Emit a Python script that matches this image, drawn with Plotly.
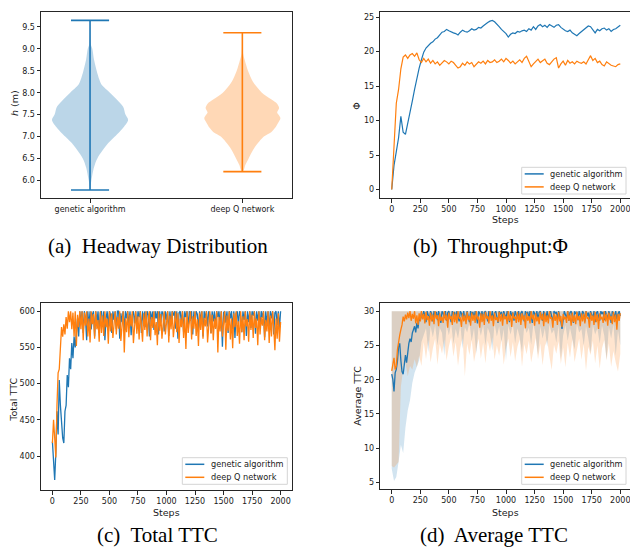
import plotly.graph_objects as go

W, H = 630, 551

# ------------------------------------------------------------------ data
CATEGORIES = ["genetic algorithm", "deep Q network"]
SERIES = ["genetic algorithm", "deep Q network"]

# (a) headway distribution: extrema and violin outline (density profile)
GA_HEADWAY_MIN, GA_HEADWAY_MAX = 5.78, 9.65
DQN_HEADWAY_MIN, DQN_HEADWAY_MAX = 6.20, 9.37
GA_PROFILE_H = [5.78, 6.0, 6.3, 6.5, 6.85, 7.0, 7.22, 7.38, 7.5, 7.68, 7.85, 8.0, 8.18, 8.3, 8.5, 8.75, 9.0, 9.12, 9.65]
GA_PROFILE_D = [0, 4, 12, 22, 55, 75, 102, 115, 107, 100, 80, 60, 35, 28, 20, 12, 7, 2, 0]
DQN_PROFILE_H = [6.2, 6.25, 6.35, 6.5, 6.75, 7.0, 7.1, 7.2, 7.3, 7.42, 7.5, 7.55, 7.65, 7.75, 7.85, 8.0, 8.25, 8.5, 8.75, 8.9, 9.37]
DQN_PROFILE_D = [0, 5, 9, 19, 37, 65, 87, 99, 107, 115, 109, 105, 111, 105, 87, 59, 32, 17, 7, 2, 0]

# (b) throughput, every 20 steps
STEPS_B = list(range(0, 2001, 20))
GA_THROUGHPUT = [
    0.0, 3.5, 5.5, 7.5, 10.6, 8.3, 8.0, 9.8, 11.5, 12.8,
    14.5, 16.2, 17.6, 18.8, 19.9, 20.5, 20.9, 21.2, 21.4, 21.8,
    22.0, 22.4, 22.8, 22.9, 23.2, 23.0, 22.8, 22.7, 22.6, 22.4,
    22.8, 23.1, 22.9, 22.8, 23.0, 23.3, 23.1, 23.2, 23.5, 23.4,
    23.7, 24.0, 24.2, 24.4, 24.5, 24.3, 24.0, 23.6, 23.2, 22.9,
    22.6, 22.1, 22.5, 22.7, 22.6, 22.9, 22.8, 23.0, 23.1, 22.9,
    23.3, 23.1, 23.6, 23.2, 23.7, 23.9, 23.6, 23.8, 23.5, 23.9,
    23.7, 23.5, 23.8, 23.9, 23.5, 23.2, 23.0, 22.9, 23.1, 22.7,
    22.5, 22.3, 22.6, 22.9, 23.2, 23.5, 23.7, 23.6, 23.1, 22.7,
    23.2, 23.0, 23.3, 23.4, 23.1, 23.3, 22.9, 23.2, 23.3, 23.5,
    23.8]
DQN_THROUGHPUT = [
    0.0, 6.5, 12.5, 14.5, 17.5, 19.2, 19.5, 19.0, 19.5, 19.7,
    19.3, 19.8, 18.8, 18.4, 19.0, 18.5, 18.9, 18.3, 18.7, 18.2,
    18.5, 18.0, 18.3, 18.7, 18.5, 18.2, 18.6, 18.4, 18.0, 17.6,
    17.8, 18.3, 18.0, 18.5, 18.2, 18.4, 17.8, 18.1, 18.5, 18.3,
    18.6, 18.2, 18.7, 18.4, 18.5, 18.8, 18.4, 18.6, 18.9, 18.5,
    19.0, 18.7, 18.3, 18.6, 18.2, 18.5, 18.8, 18.4, 19.0, 19.3,
    18.6, 17.8, 18.2, 18.6, 18.9, 18.4, 18.7, 18.9, 18.3, 18.1,
    18.5, 18.9, 19.1, 17.6, 18.2, 18.6, 18.0, 18.7, 18.3, 18.5,
    18.2, 18.6, 18.4, 18.3, 18.5, 18.2, 18.8, 19.4, 18.7, 19.0,
    18.4, 18.6, 18.1, 17.9, 18.5, 18.2, 18.0, 17.9, 17.8, 18.1,
    18.2]

# (c) total TTC, every 10 steps
STEPS_CD = list(range(0, 2001, 10))
GA_TOTAL_TTC = [
    420, 400, 367, 405, 462, 430, 505, 470, 445, 425,
    418, 462, 470, 512, 495, 535, 520, 556, 535, 565,
    550, 578, 590, 565, 600, 585, 600, 570, 600, 590,
    560, 600, 580, 600, 575, 595, 600, 565, 600, 585,
    600, 570, 598, 600, 580, 600, 560, 590, 600, 578,
    600, 595, 570, 600, 588, 600, 575, 600, 600, 562,
    597, 585, 600, 573, 600, 590, 600, 580, 600, 567,
    595, 600, 583, 600, 575, 600, 592, 600, 570, 600,
    586, 600, 578, 600, 595, 565, 600, 588, 600, 574,
    600, 590, 600, 568, 600, 584, 600, 596, 572, 600,
    588, 600, 566, 600, 582, 600, 594, 600, 576, 600,
    562, 598, 600, 585, 600, 571, 600, 592, 600, 578,
    600, 589, 600, 568, 600, 583, 600, 596, 574, 600,
    587, 600, 565, 600, 590, 600, 579, 600, 595, 570,
    600, 586, 600, 576, 600, 592, 600, 580, 600, 551,
    598, 600, 584, 600, 570, 600, 590, 600, 575, 600,
    563, 597, 600, 582, 600, 593, 571, 600, 588, 600,
    566, 600, 585, 600, 577, 600, 594, 600, 569, 600,
    587, 600, 579, 600, 591, 600, 564, 600, 583, 600,
    575, 600, 590, 600, 568, 598, 600, 581, 600, 577,
    600]
DQN_TOTAL_TTC = [
    418, 450, 425, 398, 470, 515, 520, 545, 578, 565,
    582, 568, 592, 576, 600, 585, 600, 575, 598, 565,
    600, 552, 595, 578, 600, 575, 600, 560, 598, 580,
    600, 565, 590, 557, 600, 582, 596, 562, 600, 575,
    588, 558, 600, 570, 594, 566, 600, 578, 590, 555,
    600, 572, 597, 563, 585, 600, 568, 592, 576, 600,
    559, 588, 600, 543, 590, 571, 600, 564, 595, 579,
    600, 556, 587, 600, 569, 593, 561, 600, 580, 558,
    597, 574, 600, 565, 589, 600, 560, 592, 577, 600,
    567, 585, 553, 600, 573, 596, 562, 590, 600, 568,
    583, 600, 557, 594, 575, 600, 564, 588, 600, 571,
    597, 556, 590, 578, 600, 563, 592, 548, 600, 570,
    586, 600, 561, 593, 576, 600, 566, 589, 552, 598,
    574, 600, 562, 591, 579, 600, 557, 587, 600, 569,
    595, 560, 590, 576, 600, 543, 592, 572, 600, 565,
    588, 600, 547, 594, 573, 600, 561, 590, 549, 597,
    578, 600, 566, 586, 555, 600, 571, 593, 560, 600,
    579, 589, 558, 600, 574, 595, 563, 600, 577, 590,
    553, 600, 568, 592, 580, 600, 560, 588, 572, 600,
    556, 594, 565, 600, 578, 546, 590, 562, 597, 558,
    585]

# (d) average TTC, every 10 steps (mean) and every 20 steps (lower band edge)
GA_AVG_TTC = [
    20.8, 20.0, 18.3, 21.0, 21.5, 22.7, 24.8, 25.3, 22.8, 21.2,
    20.8, 22.0, 23.6, 22.5, 24.5, 25.3, 26.0, 25.5, 26.8, 27.3,
    27.8, 26.9, 28.3, 27.5, 29.0, 28.6, 29.8, 28.9, 30.0, 29.3,
    28.4, 30.0, 29.5, 28.8, 30.0, 29.6, 28.5, 30.0, 29.2, 29.9,
    28.7, 30.0, 29.4, 28.3, 30.0, 29.7, 29.0, 30.0, 28.6, 29.8,
    30.0, 29.1, 28.4, 30.0, 29.5, 29.9, 28.8, 30.0, 29.3, 28.5,
    30.0, 29.7, 29.0, 30.0, 28.7, 29.6, 30.0, 29.2, 28.4, 30.0,
    29.5, 29.9, 28.9, 30.0, 29.4, 28.2, 30.0, 29.7, 29.1, 30.0,
    28.6, 29.8, 30.0, 29.3, 28.5, 30.0, 29.6, 29.0, 30.0, 28.8,
    29.7, 30.0, 29.2, 28.3, 30.0, 29.5, 29.9, 28.7, 30.0, 29.4,
    28.9, 30.0, 29.6, 28.4, 30.0, 29.3, 29.8, 28.6, 30.0, 29.5,
    29.0, 30.0, 28.8, 29.7, 30.0, 29.2, 28.5, 30.0, 29.6, 29.9,
    28.9, 30.0, 29.4, 28.3, 30.0, 29.7, 29.1, 30.0, 28.7, 29.8,
    30.0, 29.3, 28.6, 30.0, 29.5, 29.0, 30.0, 28.8, 29.6, 30.0,
    29.2, 28.4, 30.0, 29.7, 29.9, 28.9, 30.0, 29.3, 28.5, 27.4,
    28.8, 30.0, 29.5, 29.0, 30.0, 28.6, 29.8, 30.0, 29.2, 28.3,
    30.0, 29.6, 29.9, 28.7, 30.0, 29.4, 28.9, 30.0, 29.7, 28.5,
    30.0, 29.3, 29.8, 28.8, 30.0, 29.5, 29.0, 30.0, 28.4, 29.7,
    30.0, 29.2, 28.6, 30.0, 29.6, 29.9, 28.7, 30.0, 29.4, 28.9,
    30.0, 29.5, 28.3, 30.0, 29.7, 29.1, 30.0, 28.8, 29.6, 30.0,
    29.3]
DQN_AVG_TTC = [
    21.3, 22.5, 23.2, 21.5, 22.0, 24.4, 25.8, 26.5, 27.3, 28.0,
    29.2, 28.5, 29.5, 28.8, 29.8, 29.0, 30.0, 28.6, 29.6, 28.9,
    30.0, 28.2, 29.4, 28.0, 29.7, 28.5, 30.0, 28.8, 29.6, 28.2,
    29.9, 28.7, 29.3, 27.9, 29.8, 28.5, 29.5, 28.1, 30.0, 28.9,
    29.4, 27.8, 29.7, 28.6, 29.2, 28.3, 30.0, 28.7, 29.5, 27.6,
    29.8, 28.8, 29.3, 28.0, 29.9, 28.4, 29.6, 28.2, 30.0, 28.9,
    29.1, 27.7, 29.7, 28.5, 29.4, 28.1, 29.9, 28.7, 29.3, 27.9,
    29.8, 28.6, 29.5, 28.3, 30.0, 28.8, 29.2, 27.6, 29.7, 28.4,
    29.6, 28.0, 29.9, 28.9, 29.3, 28.2, 30.0, 28.6, 29.4, 27.8,
    29.8, 28.7, 29.1, 28.4, 29.9, 28.5, 29.6, 27.9, 29.7, 28.8,
    29.3, 28.1, 30.0, 28.6, 29.5, 27.7, 29.8, 28.9, 29.2, 28.3,
    29.9, 28.4, 29.6, 28.0, 29.7, 28.7, 29.4, 27.5, 29.8, 28.6,
    29.3, 28.2, 30.0, 28.8, 29.5, 27.9, 29.7, 28.5, 29.2, 28.1,
    29.9, 28.7, 29.6, 27.8, 29.8, 28.4, 29.4, 28.2, 30.0, 28.9,
    29.1, 27.6, 29.7, 28.6, 29.5, 28.0, 29.9, 28.5, 29.3, 27.7,
    29.6, 28.8, 29.2, 28.3, 30.0, 28.6, 29.5, 27.9, 29.8, 28.4,
    29.4, 28.1, 29.9, 28.7, 29.3, 27.8, 29.7, 28.5, 29.6, 28.2,
    30.0, 28.9, 29.1, 27.6, 29.8, 28.6, 29.4, 28.0, 29.9, 28.4,
    29.5, 27.4, 29.7, 28.8, 29.2, 28.3, 30.0, 28.5, 29.6, 27.9,
    29.8, 28.7, 29.3, 28.1, 29.9, 28.4, 29.5, 27.3, 29.6, 28.6,
    29.7]
AVG_TTC_CAP = 30.0
STEPS_BAND = list(range(0, 2001, 20))
GA_AVG_LOW = [
    7.0, 5.2, 5.8, 8.0, 10.5, 9.3, 13.0, 15.5, 17.0, 19.5,
    21.0, 22.0, 22.8, 25.5, 26.5, 27.5, 24.0, 27.8, 26.2, 28.0,
    25.0, 27.6, 26.8, 23.5, 27.9, 26.5, 28.2, 25.2, 27.4, 26.0,
    28.1, 24.5, 27.7, 26.9, 28.3, 25.6, 27.5, 23.8, 27.9, 26.4,
    28.0, 25.0, 27.6, 26.7, 24.2, 28.2, 26.3, 27.8, 25.5, 27.4,
    22.8, 27.9, 26.6, 28.1, 25.3, 27.5, 26.2, 24.0, 28.0, 26.8,
    27.6, 25.1, 28.2, 26.4, 23.6, 27.8, 26.0, 27.5, 24.8, 28.1,
    26.7, 27.3, 25.4, 27.9, 23.0, 26.5, 28.0, 25.7, 27.6, 26.3,
    24.4, 28.2, 26.9, 27.4, 25.0, 27.8, 26.1, 23.9, 28.0, 26.6,
    27.5, 25.3, 27.9, 26.4, 22.9, 27.7, 26.0, 28.1, 23.5, 27.2,
    25.0]
DQN_AVG_LOW = [
    7.4, 7.2, 7.6, 8.0, 19.0, 21.5, 22.5, 20.5, 22.0, 21.5,
    23.0, 21.8, 23.5, 22.0, 25.5, 23.0, 25.8, 22.5, 24.6, 26.0,
    22.2, 25.2, 23.8, 25.9, 22.8, 24.9, 26.2, 23.4, 25.5, 22.0,
    24.7, 26.1, 20.5, 25.3, 23.6, 25.8, 22.6, 24.4, 26.0, 23.1,
    25.4, 22.4, 25.7, 24.1, 26.2, 22.9, 25.0, 23.5, 25.9, 22.2,
    24.6, 26.0, 23.3, 25.5, 22.7, 24.8, 25.9, 21.9, 25.2, 23.7,
    25.7, 22.5, 24.5, 26.1, 23.0, 25.3, 22.1, 24.9, 25.8, 23.4,
    21.4, 25.1, 23.8, 25.6, 22.3, 24.7, 21.8, 25.4, 23.2, 25.9,
    22.6, 24.4, 26.0, 22.9, 25.2, 21.3, 24.8, 23.6, 25.7, 22.4,
    25.0, 21.6, 24.6, 25.8, 22.8, 25.3, 21.9, 24.2, 22.5, 21.2,
    23.8]

STEP_TICKS = list(range(0, 2001, 250))

# ------------------------------------------------------------------ style
C0, C1 = "#1f77b4", "#ff7f0e"
C0_BODY, C1_BODY = "rgba(31,119,180,0.3)", "rgba(255,127,14,0.3)"
C0_BAND, C1_BAND = "rgba(31,119,180,0.2)", "rgba(255,127,14,0.2)"
INK = "#262626"
SANS = "DejaVu Sans"
SERIF = "Liberation Serif"


def fx(px):
    return px / W


def fy(py):
    return 1 - py / H


fig = go.Figure()

# ---------------- (a) violins
violins = [
    (1, GA_PROFILE_H, GA_PROFILE_D, GA_HEADWAY_MIN, GA_HEADWAY_MAX, C0_BODY, C0),
    (2, DQN_PROFILE_H, DQN_PROFILE_D, DQN_HEADWAY_MIN, DQN_HEADWAY_MAX, C1_BODY, C1),
]
for pos, lev, dens, vmin, vmax, body, col in violins:
    m = max(dens)
    hw = [d / m * 0.25 for d in dens]
    xs = [pos + h for h in hw] + [pos - h for h in reversed(hw)]
    ys = list(lev) + list(reversed(lev))
    fig.add_trace(go.Scatter(x=xs, y=ys, mode="lines", fill="toself", fillcolor=body,
                             line=dict(width=0, color=body, shape="spline", smoothing=0.8),
                             xaxis="x", yaxis="y", showlegend=False, hoverinfo="skip"))
    fig.add_trace(go.Scatter(x=[pos, pos], y=[vmin, vmax], mode="lines",
                             line=dict(color=col, width=1.6), xaxis="x", yaxis="y", showlegend=False))
    for v in (vmin, vmax):
        fig.add_trace(go.Scatter(x=[pos - 0.125, pos + 0.125], y=[v, v], mode="lines",
                                 line=dict(color=col, width=1.6), xaxis="x", yaxis="y", showlegend=False))

# ---------------- (b) throughput
fig.add_trace(go.Scatter(x=STEPS_B, y=GA_THROUGHPUT, mode="lines", line=dict(color=C0, width=1.2),
                         xaxis="x2", yaxis="y2", showlegend=False, name=SERIES[0]))
fig.add_trace(go.Scatter(x=STEPS_B, y=DQN_THROUGHPUT, mode="lines", line=dict(color=C1, width=1.2),
                         xaxis="x2", yaxis="y2", showlegend=False, name=SERIES[1]))

# ---------------- (c) total TTC
fig.add_trace(go.Scatter(x=STEPS_CD, y=GA_TOTAL_TTC, mode="lines", line=dict(color=C0, width=1.3),
                         xaxis="x3", yaxis="y3", showlegend=False, name=SERIES[0]))
fig.add_trace(go.Scatter(x=STEPS_CD, y=DQN_TOTAL_TTC, mode="lines", line=dict(color=C1, width=1.3),
                         xaxis="x3", yaxis="y3", showlegend=False, name=SERIES[1]))

# ---------------- (d) average TTC with bands
for low, band in ((GA_AVG_LOW, C0_BAND), (DQN_AVG_LOW, C1_BAND)):
    xs = STEPS_BAND + list(reversed(STEPS_BAND))
    ys = [AVG_TTC_CAP] * len(STEPS_BAND) + list(reversed(low))
    fig.add_trace(go.Scatter(x=xs, y=ys, mode="lines", fill="toself", fillcolor=band,
                             line=dict(width=0, color=band), xaxis="x4", yaxis="y4",
                             showlegend=False, hoverinfo="skip"))
fig.add_trace(go.Scatter(x=STEPS_CD, y=GA_AVG_TTC, mode="lines", line=dict(color=C0, width=1.3),
                         xaxis="x4", yaxis="y4", showlegend=False, name=SERIES[0]))
fig.add_trace(go.Scatter(x=STEPS_CD, y=DQN_AVG_TTC, mode="lines", line=dict(color=C1, width=1.3),
                         xaxis="x4", yaxis="y4", showlegend=False, name=SERIES[1]))

# ------------------------------------------------------------------ axes
tickfont = dict(family=SANS, size=8, color="#1a1a1a")


def ax(domain, rng, mirror=True, **kw):
    d = dict(domain=domain, range=rng, showgrid=False, zeroline=False, showline=True,
             linecolor=INK, linewidth=1, mirror=mirror, ticks="outside", ticklen=3.5,
             tickwidth=1, tickcolor=INK, tickfont=tickfont, fixedrange=True,
             ticklabeloverflow="allow")
    d.update(kw)
    return d


XA = [fx(41), fx(292)]
XB = [fx(380.3), 1.0]
YTOP = [fy(198), fy(12)]
YC = [fy(490), fy(302.7)]
YD = [fy(489.3), fy(302.7)]

fig.update_layout(
    width=W, height=H, margin=dict(l=0, r=0, t=0, b=0),
    paper_bgcolor="white", plot_bgcolor="white", showlegend=False,
    xaxis=ax(XA, [0.678, 2.326], tickvals=[1, 2], ticktext=CATEGORIES, anchor="y"),
    yaxis=ax(YTOP, [5.597, 9.842], tickvals=[6.0, 6.5, 7.0, 7.5, 8.0, 8.5, 9.0, 9.5],
             tickformat=".1f", anchor="x"),
    xaxis2=ax(XB, [-100, 2085], tickvals=STEP_TICKS, anchor="y2"),
    yaxis2=ax(YTOP, [-1.225, 25.725], mirror=False, tickvals=[0, 5, 10, 15, 20, 25], anchor="x2"),
    xaxis3=ax(XA, [-100, 2100], tickvals=STEP_TICKS, anchor="y3"),
    yaxis3=ax(YC, [353.25, 611.75], tickvals=[400, 450, 500, 550, 600], anchor="x3"),
    xaxis4=ax(XB, [-100, 2085], tickvals=STEP_TICKS, anchor="y4"),
    yaxis4=ax(YD, [4.0, 31.24], mirror=False, tickvals=[5, 10, 15, 20, 25, 30], anchor="x4"),
)

# ------------------------------------------------------------------ text
ann = []
shapes = []
lab = dict(family=SANS, size=9.5, color="#1a1a1a")


def text(px, py, s, font, angle=0, xanchor="center"):
    ann.append(dict(x=fx(px), y=fy(py), xref="paper", yref="paper", text=s, showarrow=False,
                    font=font, textangle=angle, xanchor=xanchor, yanchor="middle"))


text(15, 103, "<i>h</i> (m)", lab, -90)
text(355.7, 106, "Φ", lab, -90)
text(505, 219.5, "Steps", lab)
text(12.7, 400, "Total TTC", lab, -90)
text(166.5, 512, "Steps", lab)
text(356.7, 396, "Average TTC", lab, -90)
text(505, 512, "Steps", lab)

cap = dict(family=SERIF, size=21, color="black")
text(158, 246, "(a)  Headway Distribution", cap)
text(490, 246, "(b)  Throughput:Φ", cap)
text(157, 535, "(c)  Total TTC", cap)
text(494, 535, "(d)  Average TTC", cap)

legfont = dict(family=SANS, size=8.2, color="#1a1a1a")
for (x0, y0, x1, y1) in [(521.7, 167.3, 626, 194), (182.3, 457.7, 287.3, 484.3), (521.7, 457.7, 626, 484.3)]:
    shapes.append(dict(type="rect", xref="paper", yref="paper", x0=fx(x0), x1=fx(x1), y0=fy(y1), y1=fy(y0),
                       line=dict(color="#d4d4d4", width=1), fillcolor="rgba(255,255,255,0.85)", layer="above"))
    for i, (name, col) in enumerate(zip(SERIES, (C0, C1))):
        ly = y0 + 6.6 + i * 13.0
        shapes.append(dict(type="line", xref="paper", yref="paper", x0=fx(x0 + 3), x1=fx(x0 + 22),
                           y0=fy(ly), y1=fy(ly), line=dict(color=col, width=1.5), layer="above"))
        text(x0 + 26.5, ly, name, legfont, xanchor="left")

fig.update_layout(annotations=ann, shapes=shapes)
fig.write_html("out.html")
